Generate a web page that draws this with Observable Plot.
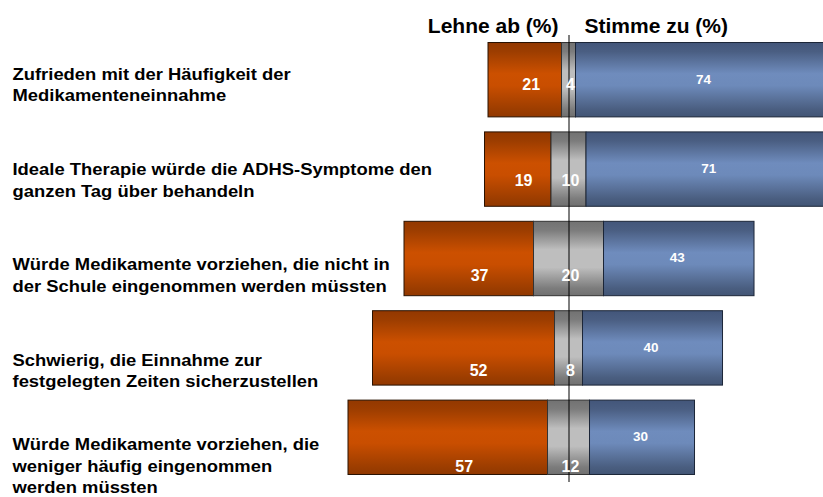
<!DOCTYPE html>
<html>
<head>
<meta charset="utf-8">
<script src="https://cdn.jsdelivr.net/npm/d3@7"></script>
<script src="https://cdn.jsdelivr.net/npm/@observablehq/plot@0.6"></script>
<style>
  html, body { margin: 0; padding: 0; background: #fff; overflow: hidden; }
  #wrap { position: relative; width: 823px; height: 497px; }
  #wrap svg { position: absolute; left: 0; top: 0; overflow: hidden; }
</style>
</head>
<body>
<div id="wrap"></div>
<script>
const categories = [
  "Zufrieden mit der Häufigkeit der\nMedikamenteneinnahme",
  "Ideale Therapie würde die ADHS-Symptome den\nganzen Tag über behandeln",
  "Würde Medikamente vorziehen, die nicht in\nder Schule eingenommen werden müssten",
  "Schwierig, die Einnahme zur\nfestgelegten Zeiten sicherzustellen",
  "Würde Medikamente vorziehen, die\nweniger häufig eingenommen\nwerden müssten"
];
const reject = [21, 19, 37, 52, 57];   // Lehne ab (%)
const neutral = [4, 10, 20, 8, 12];
const agree = [74, 71, 43, 40, 30];    // Stimme zu (%)
const headerLeft = "Lehne ab (%)";
const headerRight = "Stimme zu (%)";

const rows = categories.map((c, i) => ({
  cat: c, r: reject[i], n: neutral[i], a: agree[i]
}));

const W = 823, H = 497;
const font = "'Liberation Sans', Arial, Helvetica, sans-serif";
const xScale = {domain: [-70, 72.71], range: [323.5, 823]};

// Bars layer
const bars = Plot.plot({
  width: W, height: H,
  marginLeft: 323.5, marginRight: 0, marginTop: 35, marginBottom: 15,
  style: {fontFamily: font, background: "transparent"},
  x: {...xScale, axis: null},
  y: {type: "band", domain: categories, paddingInner: 0.168, paddingOuter: 0.084, round: false, axis: null},
  marks: [
    Plot.barX(rows, {y: "cat", x1: d => -d.n / 2 - d.r, x2: d => -d.n / 2, fill: "url(#gOrange)", stroke: "#2a1200", strokeWidth: 1}),
    Plot.barX(rows, {y: "cat", x1: d => -d.n / 2, x2: d => d.n / 2, fill: "url(#gGray)", stroke: "#333", strokeWidth: 1}),
    Plot.barX(rows, {y: "cat", x1: d => d.n / 2, x2: d => d.n / 2 + d.a, fill: "url(#gBlue)", stroke: "#1c2638", strokeWidth: 1}),
    Plot.text(rows, {y: "cat", x: d => d.n / 2 + d.a / 2, text: d => String(d.a), fill: "white", fontWeight: "bold", fontSize: 13.5, dy: -1, dx: -2}),
    Plot.ruleX([0], {stroke: "black", strokeWidth: 1}),
    Plot.text([headerLeft], {x: 0, frameAnchor: "top", text: d => d, textAnchor: "end", dx: -10.5, dy: -17.5, fontSize: 21, fontWeight: "bold", fill: "black"}),
    Plot.text([headerRight], {x: 0, frameAnchor: "top", text: d => d, textAnchor: "start", dx: 15.5, dy: -17.5, fontSize: 21, fontWeight: "bold", fill: "black"})
  ]
});

d3.select(bars).insert("defs", ":first-child").html(`
  <linearGradient id="gOrange" x1="0" y1="0" x2="0" y2="1">
    <stop offset="0" stop-color="#933800"/>
    <stop offset="0.12" stop-color="#9c3d00"/>
    <stop offset="0.42" stop-color="#cc5000"/>
    <stop offset="0.58" stop-color="#c94e00"/>
    <stop offset="0.9" stop-color="#9c3d00"/>
    <stop offset="1" stop-color="#913800"/>
  </linearGradient>
  <linearGradient id="gGray" x1="0" y1="0" x2="0" y2="1">
    <stop offset="0" stop-color="#727272"/>
    <stop offset="0.12" stop-color="#7c7c7c"/>
    <stop offset="0.38" stop-color="#bebebe"/>
    <stop offset="0.62" stop-color="#bebebe"/>
    <stop offset="0.9" stop-color="#7c7c7c"/>
    <stop offset="1" stop-color="#707070"/>
  </linearGradient>
  <linearGradient id="gBlue" x1="0" y1="0" x2="0" y2="1">
    <stop offset="0" stop-color="#43567a"/>
    <stop offset="0.12" stop-color="#4a5e82"/>
    <stop offset="0.42" stop-color="#6f8cbd"/>
    <stop offset="0.58" stop-color="#6d8aba"/>
    <stop offset="0.9" stop-color="#4a5e80"/>
    <stop offset="1" stop-color="#425575"/>
  </linearGradient>
`);

// Labels layer (category labels and reject / neutral values share this row spacing)
const labels = Plot.plot({
  width: W, height: H,
  marginLeft: 323.5, marginRight: 0, marginTop: 84.5, marginBottom: 31,
  style: {fontFamily: font, background: "transparent"},
  x: {...xScale, axis: null},
  y: {type: "point", domain: categories, range: [84.5, 466], padding: 0, round: false, axis: null},
  marks: [
    Plot.text(rows, {y: "cat", frameAnchor: "left", text: "cat", textAnchor: "start", dx: -311.5, dy: -1.5, fontSize: 16.3, fontWeight: "bold", fill: "black", lineHeight: 1.32}),
    Plot.text(rows, {y: "cat", x: d => -d.n / 2 - d.r * 0.42, text: d => String(d.r), fill: "white", fontWeight: "bold", fontSize: 16}),
    Plot.text(rows, {y: "cat", x: 0, text: d => String(d.n), fill: "white", fontWeight: "bold", fontSize: 16, dx: 1.5})
  ]
});

// widen category labels horizontally like the original
const catG = labels.querySelectorAll('g[aria-label="text"]')[0];
if (catG) {
  catG.querySelectorAll("text").forEach(t => {
    const tr = t.getAttribute("transform") || "";
    const x = t.getAttribute("x"), y = t.getAttribute("y");
    if (tr) t.setAttribute("transform", tr + " scale(1.13,1)");
    else t.setAttribute("transform", `translate(${x || 0},${y || 0}) scale(1.13,1)`), t.removeAttribute("x"), t.removeAttribute("y");
  });
}

const wrap = document.getElementById("wrap");
wrap.appendChild(bars);
wrap.appendChild(labels);
</script>
</body>
</html>
